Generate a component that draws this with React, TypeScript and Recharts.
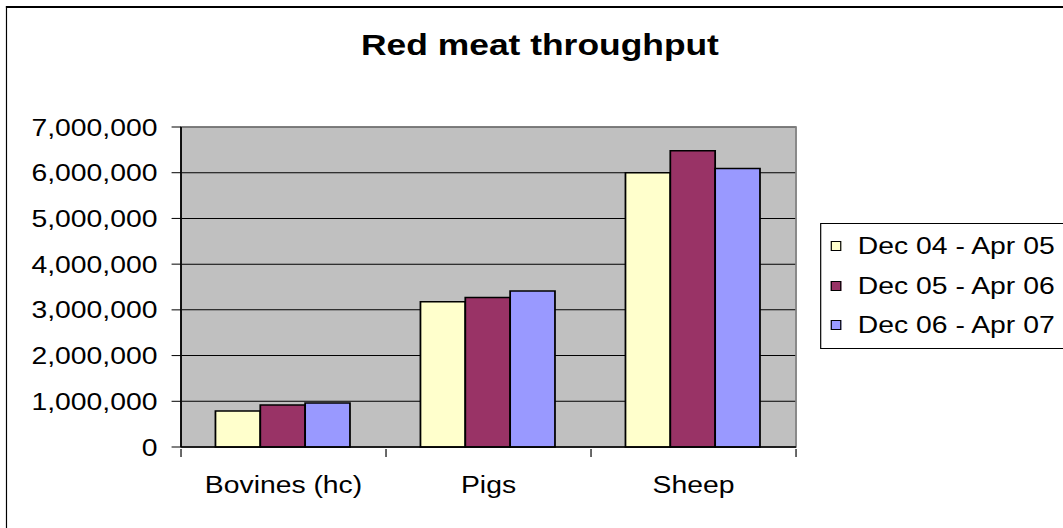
import { Bar, BarChart, CartesianGrid, ReferenceArea, XAxis, YAxis } from "recharts";

const categories = ["Bovines (hc)", "Pigs", "Sheep"];
const seriesNames = ["Dec 04 - Apr 05", "Dec 05 - Apr 06", "Dec 06 - Apr 07"];
const dec04 = [790000, 3180000, 6000000];
const dec05 = [920000, 3270000, 6480000];
const dec06 = [960000, 3410000, 6090000];
const yTicks = [0, 1000000, 2000000, 3000000, 4000000, 5000000, 6000000, 7000000];
// integers are category boundaries (tick marks), halves are category centres (labels)
const xTicks = [0, 0.5, 1, 1.5, 2, 2.5, 3];

const COLORS = ["#FFFFCC", "#993366", "#9999FF"];
const FONT = '"Liberation Sans", Arial, sans-serif';

// the reference is stretched sideways, so the whole chart is drawn narrower and scaled
const STRETCH = 1.18;
const W = 901;
const H = 528;

const data = categories.map((name, i) => ({
  name,
  s0: dec04[i],
  s1: dec05[i],
  s2: dec06[i],
}));

function CategoryTick(props: any) {
  const { x, y, payload } = props;
  const v = payload.value as number;
  if (Number.isInteger(v)) {
    return <line x1={x} x2={x} y1={y - 8} y2={y} stroke="#000" strokeWidth={1} />;
  }
  return (
    <text x={x} y={y + 19} dy="0.71em" textAnchor="middle" fontSize={24} fill="#000" fontFamily={FONT}>
      {categories[Math.floor(v)]}
    </text>
  );
}

export default function App() {
  return (
    <div
      style={{
        position: "absolute",
        left: 0,
        top: 0,
        width: W,
        height: H,
        overflow: "hidden",
        transform: `scaleX(${STRETCH})`,
        transformOrigin: "0 0",
        background: "#fff",
        fontFamily: FONT,
      }}
    >
      {/* chart frame, its right and bottom edges fall outside the picture */}
      <div
        style={{
          position: "absolute",
          left: 5,
          top: 6,
          width: 2000,
          height: 2000,
          borderLeft: "1.5px solid #000",
          borderTop: "2px solid #000",
        }}
      />
      <div
        style={{
          position: "absolute",
          left: 257.6,
          width: 400,
          top: 30,
          lineHeight: "30px",
          fontSize: 30,
          fontWeight: "bold",
          textAlign: "center",
          color: "#000",
        }}
      >
        Red meat throughput
      </div>
      <div style={{ position: "absolute", left: 0, top: 0 }}>
        <BarChart
          width={W}
          height={H}
          data={data}
          margin={{ top: 127, right: 226.4, left: 53.4, bottom: 41 }}
          barCategoryGap="16.8%"
          barGap={0}
        >
          <CartesianGrid vertical={false} stroke="#000" fill="#C0C0C0" fillOpacity={1} />
          <XAxis dataKey="name" hide height={0} />
          <XAxis
            xAxisId="b"
            type="number"
            dataKey="boundary"
            domain={[0, 3]}
            allowDataOverflow
            ticks={xTicks}
            interval={0}
            height={40}
            tickSize={8}
            tickLine={false}
            tick={<CategoryTick />}
            axisLine={{ stroke: "#000", strokeWidth: 1.5 }}
          />
          <YAxis
            width={100}
            domain={[0, 7000000]}
            ticks={yTicks}
            tickFormatter={(v: number) => v.toLocaleString("en-US")}
            tickSize={8}
            tickMargin={12}
            axisLine={{ stroke: "#000", strokeWidth: 1.5 }}
            tickLine={{ stroke: "#000" }}
            tick={{ fontSize: 24, fill: "#000", fontFamily: FONT }}
          />
          <ReferenceArea
            x1="Bovines (hc)"
            x2="Sheep"
            y1={0}
            y2={7000000}
            fill="none"
            stroke="#808080"
            strokeWidth={1.5}
            ifOverflow="visible"
          />
          <Bar dataKey="s0" name={seriesNames[0]} fill={COLORS[0]} stroke="#000" strokeWidth={1.5} isAnimationActive={false} />
          <Bar dataKey="s1" name={seriesNames[1]} fill={COLORS[1]} stroke="#000" strokeWidth={1.5} isAnimationActive={false} />
          <Bar dataKey="s2" name={seriesNames[2]} fill={COLORS[2]} stroke="#000" strokeWidth={1.5} isAnimationActive={false} />
        </BarChart>
      </div>
      <div
        style={{
          position: "absolute",
          left: 695,
          top: 223,
          width: 260,
          height: 124,
          border: "1px solid #000",
          background: "#fff",
        }}
      >
        {seriesNames.map((s, i) => (
          <div
            key={s}
            style={{
              position: "absolute",
              left: 8,
              top: 10 + i * 39.5,
              height: 24,
              display: "flex",
              alignItems: "center",
              fontSize: 24,
              lineHeight: "24px",
              whiteSpace: "nowrap",
              color: "#000",
            }}
          >
            <span
              style={{
                display: "inline-block",
                width: 8.5,
                height: 10,
                boxSizing: "border-box",
                border: "1.5px solid #000",
                background: COLORS[i],
                marginRight: 14.5,
              }}
            />
            {s}
          </div>
        ))}
      </div>
    </div>
  );
}
